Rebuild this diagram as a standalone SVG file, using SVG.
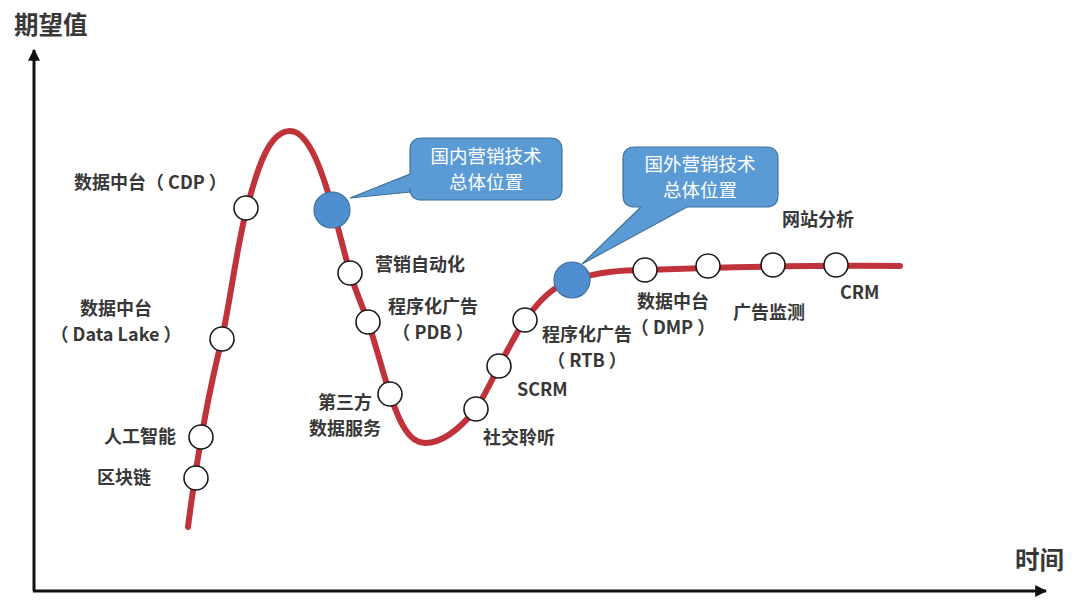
<svg xmlns="http://www.w3.org/2000/svg" width="1080" height="604" viewBox="0 0 1080 604">
<style>
.lbl{font-family:"Noto Sans CJK SC","Liberation Sans",sans-serif;font-weight:700;font-size:18px;fill:#383838}
.ax{font-family:"Noto Sans CJK SC","Liberation Sans",sans-serif;font-weight:700;font-size:24.5px;fill:#383838}
.co{font-family:"Noto Sans CJK SC","Liberation Sans",sans-serif;font-size:18.5px;fill:#fff;text-anchor:middle}
.dot{fill:#fff;stroke:#1a1a1a;stroke-width:1.6}
.blue{fill:#4f8fd0;stroke:#41719c;stroke-width:1.2}
.axis{stroke:#111;stroke-width:3;fill:none}
</style>
<defs>
<marker id="arr" viewBox="0 0 10 10" refX="9" refY="5" markerWidth="4" markerHeight="4" orient="auto" markerUnits="strokeWidth">
<path d="M0,0 L10,5 L0,10 z" fill="#111"/>
</marker>
</defs>
<rect width="1080" height="604" fill="#fff"/>
<g id="axes">
<line class="axis" x1="34" y1="591" x2="34" y2="50" marker-end="url(#arr)"/>
<line class="axis" x1="33" y1="591" x2="1046" y2="591" marker-end="url(#arr)"/>
<text class="ax" x="14" y="34">期望值</text>
<text class="ax" x="1015" y="569">时间</text>
</g>
<g id="connectors">
<path d="M188,527 C194,480 204,410 222,339 C232,290 238,240 247,208 C258,165 270,131 290,131 C310,131 324,178 333,209 C340,235 345,255 350,273 C356,292 362,305 368,322 C376,345 382,370 390,394 C400,425 410,443 425,443 C445,443 463,425 476,409 C485,395 492,380 499,366 C508,350 515,335 525,320 C540,300 552,287 572,280 C600,272 620,270 645,270 C700,268 800,265 900,266" fill="none" stroke="#c0333a" stroke-width="6" stroke-linecap="round"/>
</g>
<g id="callout-domestic">
<path d="M422,138 H550 Q562,138 562,150 V188 Q562,200 550,200 H422 Q410,200 410,188 V192 L350,198 L410,174 V150 Q410,138 422,138 Z" fill="#5b9bd5" stroke="#41719c" stroke-width="1.2"/>
<text class="co"><tspan x="486" y="163">国内营销技术</tspan><tspan x="486" y="189">总体位置</tspan></text>
</g>
<g id="callout-foreign">
<path d="M635,147 H766 Q778,147 778,159 V195 Q778,207 766,207 H687 L582,264 L641,207 H635 Q623,207 623,195 V159 Q623,147 635,147 Z" fill="#5b9bd5" stroke="#41719c" stroke-width="1.2"/>
<text class="co"><tspan x="700" y="171">国外营销技术</tspan><tspan x="700" y="197">总体位置</tspan></text>
</g>
<g id="node-domestic"><circle class="blue" cx="332" cy="210" r="18"/></g>
<g id="node-foreign"><circle class="blue" cx="572" cy="280" r="18"/></g>
<g id="node-blockchain"><circle class="dot" cx="196" cy="478" r="12"/><text class="lbl" x="151" y="484" text-anchor="end">区块链</text></g>
<g id="node-ai"><circle class="dot" cx="201" cy="437" r="12"/><text class="lbl" x="176" y="443" text-anchor="end">人工智能</text></g>
<g id="node-datalake"><circle class="dot" cx="222" cy="339" r="12"/><text class="lbl" text-anchor="middle"><tspan x="116" y="315">数据中台</tspan><tspan x="116" y="341">（ Data Lake ）</tspan></text></g>
<g id="node-cdp"><circle class="dot" cx="246" cy="208" r="12"/><text class="lbl" x="74" y="189">数据中台（ CDP ）</text></g>
<g id="node-automation"><circle class="dot" cx="350" cy="273" r="12"/><text class="lbl" x="375" y="271">营销自动化</text></g>
<g id="node-pdb"><circle class="dot" cx="368" cy="322" r="12"/><text class="lbl" text-anchor="middle"><tspan x="433" y="313">程序化广告</tspan><tspan x="433" y="339">（ PDB ）</tspan></text></g>
<g id="node-thirdparty"><circle class="dot" cx="390" cy="394" r="12"/><text class="lbl" text-anchor="middle"><tspan x="345" y="409">第三方</tspan><tspan x="345" y="435">数据服务</tspan></text></g>
<g id="node-social"><circle class="dot" cx="476" cy="409" r="12"/><text class="lbl" x="483" y="444">社交聆听</text></g>
<g id="node-scrm"><circle class="dot" cx="499" cy="366" r="12"/><text class="lbl" x="517" y="396">SCRM</text></g>
<g id="node-rtb"><circle class="dot" cx="525" cy="320" r="12"/><text class="lbl" text-anchor="middle"><tspan x="587" y="341">程序化广告</tspan><tspan x="587" y="367">（ RTB ）</tspan></text></g>
<g id="node-dmp"><circle class="dot" cx="645" cy="270" r="12"/><text class="lbl" text-anchor="middle"><tspan x="673" y="308">数据中台</tspan><tspan x="673" y="334">（ DMP ）</tspan></text></g>
<g id="node-admon"><circle class="dot" cx="708" cy="266" r="12"/><text class="lbl" x="733" y="319">广告监测</text></g>
<g id="node-web"><circle class="dot" cx="773" cy="265" r="12"/><text class="lbl" x="782" y="226">网站分析</text></g>
<g id="node-crm"><circle class="dot" cx="836" cy="265" r="12"/><text class="lbl" x="840" y="299">CRM</text></g>
</svg>
